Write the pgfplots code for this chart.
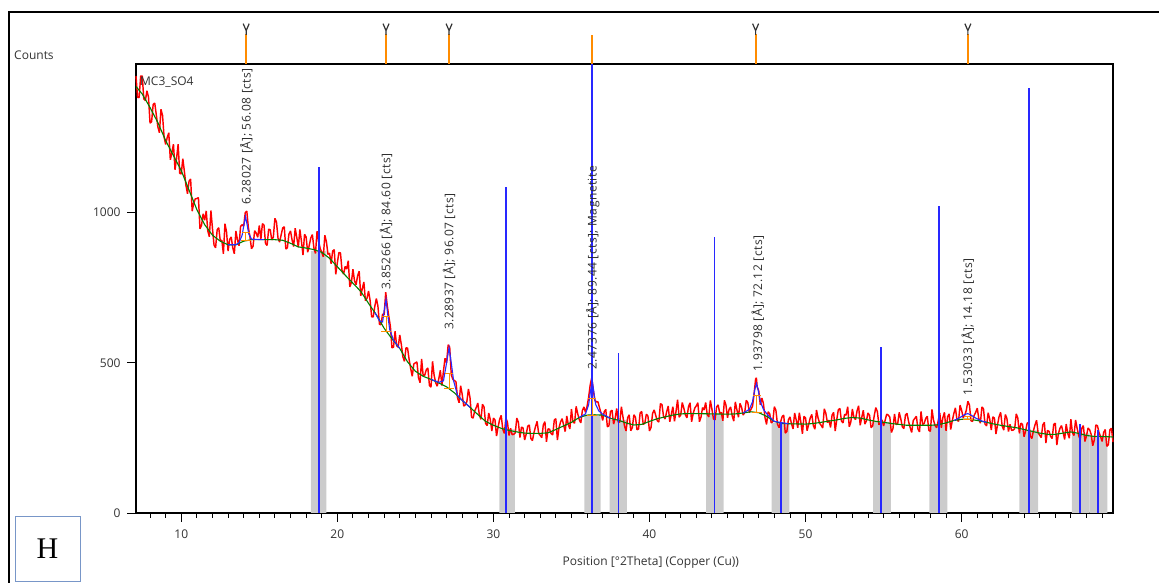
\documentclass[border=0pt]{standalone}
\usepackage{fontspec}
\setmainfont{Open Sans}
\newfontfamily\serifH{Liberation Serif}
\usepackage{pgfplots}
\pgfplotsset{compat=1.18}
\definecolor{txt}{RGB}{51,51,51}
\definecolor{lbl}{RGB}{45,45,45}
\definecolor{stick}{RGB}{40,40,255}
\definecolor{bgline}{RGB}{0,128,0}
\definecolor{org}{RGB}{255,140,0}
\definecolor{band}{RGB}{204,204,204}
\definecolor{hbox}{RGB}{120,150,200}

\newcommand{\refband}[3]{\addplot[fill=band, draw=none] coordinates {(#1,0)(#1,#3)(#2,#3)(#2,0)} \closedcycle;}
\newcommand{\peaktop}[1]{%
  \draw[org, line width=2bp] (axis cs:#1,1495) -- (axis cs:#1,1594);
  \draw[black!80, line width=1.2bp] (axis cs:#1,1592) -- (axis cs:#1,1606) -- ++(-3bp,7bp) (axis cs:#1,1606) -- ++(3bp,7bp);}
\newcommand{\pkmark}[3]{%
  \draw[org, line width=1bp] (axis cs:#1,#2) -- (axis cs:#1,#3)
    ([xshift=-4bp]axis cs:#1,#3) -- ([xshift=4bp]axis cs:#1,#3)
    ([xshift=-5bp]axis cs:#1,#2) -- ([xshift=5bp]axis cs:#1,#2);}

\begin{document}
\begin{tikzpicture}[x=1bp,y=1bp]
\useasboundingbox (0,0) rectangle (1159,583);
\draw[line width=2bp] (9,-20) -- (9,571) -- (1180,571);
\draw[hbox, line width=0.8bp] (15,2) rectangle (80,67);
\node[font=\serifH\fontsize{30bp}{32bp}\selectfont] at (47.5,34.5) {H};
\node[anchor=west, text=txt, font=\fontsize{12bp}{14bp}\selectfont, inner sep=0] at (14,528) {Counts};

\begin{axis}[
  at={(136bp,70bp)}, anchor=south west,
  width=977bp, height=449bp, scale only axis,
  xmin=7.1, xmax=69.7, ymin=0, ymax=1495,
  clip=false,
  axis line style={line width=1.8bp},
  xtick={10,20,30,40,50,60},
  minor xtick={8,9,...,69},
  ytick={0,500,1000},
  xtick pos=lower, ytick pos=left,
  tick align=outside,
  major tick length=9bp, minor tick length=5bp,
  tick style={black, line width=0.9bp},
  ticklabel style={font=\fontsize{12bp}{14bp}\selectfont, text=txt},
  /pgf/number format/assume math mode=true,
  /pgf/number format/set thousands separator={},
  yticklabel style={xshift=-3bp},
  xticklabel style={yshift=-4bp},
  xlabel={Position [°2Theta] (Copper (Cu))},
  xlabel style={font=\fontsize{12bp}{14bp}\selectfont, text=txt,
    at={(axis description cs:0.527,0)}, anchor=center, yshift=-49bp},
]
% reference bands
\refband{18.3}{19.3}{873}
\refband{30.38}{31.37}{278}
\refband{35.83}{36.87}{326}
\refband{37.45}{38.55}{310}
\refband{43.63}{44.75}{330}
\refband{47.83}{48.96}{300}
\refband{54.33}{55.46}{303}
\refband{57.93}{59.08}{293}
\refband{63.7}{64.9}{275}
\refband{67.06}{68.2}{265}
\refband{68.2}{69.33}{255}

% measured counts
\addplot[red, line width=1.45bp, line join=bevel] coordinates {
(7.1,1455)(7.2,1384)(7.3,1383)(7.4,1455)(7.5,1455)(7.6,1379)(7.7,1373)(7.8,1406)(7.9,1385)(8.0,1298)
(8.1,1303)(8.2,1360)(8.3,1365)(8.4,1326)(8.5,1286)(8.6,1266)(8.7,1344)(8.8,1324)(8.9,1252)(9.0,1227)
(9.1,1250)(9.2,1266)(9.3,1176)(9.4,1200)(9.5,1228)(9.6,1143)(9.7,1181)(9.8,1228)(9.9,1131)(10.0,1129)
(10.1,1180)(10.2,1137)(10.3,1091)(10.4,1063)(10.5,1105)(10.6,1112)(10.7,1005)(10.8,1032)(10.9,1046)(11.0,1047)
(11.1,1050)(11.2,946)(11.3,958)(11.4,996)(11.5,975)(11.6,1006)(11.7,939)(11.8,920)(11.9,1007)(12.0,947)
(12.1,892)(12.2,883)(12.3,943)(12.4,950)(12.5,906)(12.6,908)(12.7,863)(12.8,963)(12.9,936)(13.0,872)
(13.1,911)(13.2,919)(13.3,883)(13.4,863)(13.5,939)(13.6,910)(13.7,890)(13.8,954)(13.9,960)(14.0,955)
(14.1,1000)(14.2,1005)(14.3,950)(14.4,920)(14.5,880)(14.6,888)(14.7,940)(14.8,932)(14.9,918)(15.0,957)
(15.1,911)(15.2,963)(15.3,959)(15.4,897)(15.5,891)(15.6,945)(15.7,943)(15.8,909)(15.9,919)(16.0,981)
(16.1,969)(16.2,915)(16.3,902)(16.4,926)(16.5,949)(16.6,953)(16.7,879)(16.8,883)(16.9,929)(17.0,939)
(17.1,909)(17.2,887)(17.3,948)(17.4,918)(17.5,885)(17.6,944)(17.7,905)(17.8,859)(17.9,928)(18.0,919)
(18.1,868)(18.2,891)(18.3,916)(18.4,927)(18.5,882)(18.6,864)(18.7,938)(18.8,905)(18.9,881)(19.0,868)
(19.1,853)(19.2,925)(19.3,903)(19.4,861)(19.5,865)(19.6,830)(19.7,872)(19.8,877)(19.9,795)(20.0,833)
(20.1,867)(20.2,866)(20.3,808)(20.4,795)(20.5,821)(20.6,812)(20.7,840)(20.8,753)(20.9,767)(21.0,812)
(21.1,773)(21.2,760)(21.3,790)(21.4,805)(21.5,723)(21.6,747)(21.7,769)(21.8,707)(21.9,715)(22.0,739)
(22.1,708)(22.2,653)(22.3,653)(22.4,688)(22.5,714)(22.6,689)(22.7,628)(22.8,627)(22.9,662)(23.0,660)
(23.1,735)(23.2,690)(23.3,654)(23.4,621)(23.5,550)(23.6,552)(23.7,605)(23.8,557)(23.9,552)(24.0,593)
(24.1,561)(24.2,520)(24.3,505)(24.4,550)(24.5,549)(24.6,511)(24.7,481)(24.8,455)(24.9,496)(25.0,500)
(25.1,503)(25.2,450)(25.3,434)(25.4,513)(25.5,457)(25.6,459)(25.7,477)(25.8,483)(25.9,425)(26.0,419)
(26.1,505)(26.2,459)(26.3,434)(26.4,422)(26.5,447)(26.6,475)(26.7,424)(26.8,473)(26.9,515)(27.0,500)
(27.1,560)(27.2,552)(27.3,460)(27.4,445)(27.5,441)(27.6,437)(27.7,384)(27.8,367)(27.9,424)(28.0,395)
(28.1,356)(28.2,360)(28.3,371)(28.4,413)(28.5,384)(28.6,319)(28.7,316)(28.8,340)(28.9,351)(29.0,366)
(29.1,326)(29.2,312)(29.3,362)(29.4,353)(29.5,298)(29.6,291)(29.7,333)(29.8,311)(29.9,273)(30.0,316)
(30.1,310)(30.2,256)(30.3,286)(30.4,312)(30.5,325)(30.6,279)(30.7,265)(30.8,316)(30.9,302)(31.0,258)
(31.1,282)(31.2,261)(31.3,262)(31.4,267)(31.5,316)(31.6,302)(31.7,251)(31.8,286)(31.9,283)(32.0,243)
(32.1,262)(32.2,289)(32.3,293)(32.4,248)(32.5,241)(32.6,268)(32.7,288)(32.8,305)(32.9,265)(33.0,258)
(33.1,251)(33.2,294)(33.3,304)(33.4,237)(33.5,280)(33.6,279)(33.7,264)(33.8,260)(33.9,309)(34.0,314)
(34.1,243)(34.2,283)(34.3,303)(34.4,314)(34.5,293)(34.6,271)(34.7,323)(34.8,294)(34.9,280)(35.0,346)
(35.1,303)(35.2,299)(35.3,355)(35.4,331)(35.5,311)(35.6,300)(35.7,341)(35.8,353)(35.9,335)(36.0,355)
(36.1,385)(36.2,426)(36.3,450)(36.4,410)(36.5,375)(36.6,370)(36.7,370)(36.8,350)(36.9,332)(37.0,308)
(37.1,337)(37.2,345)(37.3,287)(37.4,290)(37.5,338)(37.6,342)(37.7,296)(37.8,315)(37.9,348)(38.0,302)
(38.1,303)(38.2,354)(38.3,320)(38.4,290)(38.5,273)(38.6,317)(38.7,327)(38.8,274)(38.9,284)(39.0,327)
(39.1,319)(39.2,277)(39.3,280)(39.4,333)(39.5,338)(39.6,295)(39.7,299)(39.8,329)(39.9,323)(40.0,273)
(40.1,285)(40.2,332)(40.3,343)(40.4,325)(40.5,307)(40.6,303)(40.7,364)(40.8,361)(40.9,322)(41.0,313)
(41.1,337)(41.2,356)(41.3,304)(41.4,328)(41.5,354)(41.6,305)(41.7,338)(41.8,377)(41.9,319)(42.0,326)
(42.1,368)(42.2,349)(42.3,327)(42.4,317)(42.5,354)(42.6,367)(42.7,304)(42.8,331)(42.9,349)(43.0,357)
(43.1,367)(43.2,304)(43.3,319)(43.4,351)(43.5,343)(43.6,368)(43.7,328)(43.8,320)(43.9,375)(44.0,346)
(44.1,313)(44.2,310)(44.3,353)(44.4,360)(44.5,332)(44.6,335)(44.7,307)(44.8,375)(44.9,359)(45.0,317)
(45.1,345)(45.2,353)(45.3,323)(45.4,306)(45.5,370)(45.6,344)(45.7,319)(45.8,365)(45.9,352)(46.0,326)
(46.1,334)(46.2,375)(46.3,368)(46.4,334)(46.5,345)(46.6,355)(46.7,395)(46.8,446)(46.85,450)(46.9,420)(47.0,407)
(47.1,360)(47.2,383)(47.3,365)(47.4,318)(47.5,295)(47.6,337)(47.7,331)(47.8,300)(47.9,304)(48.0,354)
(48.1,342)(48.2,296)(48.3,284)(48.4,303)(48.5,321)(48.6,326)(48.7,266)(48.8,271)(48.9,310)(49.0,320)
(49.1,297)(49.2,280)(49.3,333)(49.4,310)(49.5,284)(49.6,334)(49.7,302)(49.8,264)(49.9,322)(50.0,316)
(50.1,274)(50.2,295)(50.3,317)(50.4,328)(50.5,291)(50.6,279)(50.7,343)(50.8,317)(50.9,299)(51.0,292)
(51.1,283)(51.2,347)(51.3,332)(51.4,301)(51.5,309)(51.6,285)(51.7,326)(51.8,335)(51.9,273)(52.0,311)
(52.1,344)(52.2,348)(52.3,306)(52.4,300)(52.5,328)(52.6,326)(52.7,354)(52.8,287)(52.9,303)(53.0,346)
(53.1,318)(53.2,311)(53.3,340)(53.4,357)(53.5,292)(53.6,318)(53.7,342)(53.8,296)(53.9,307)(54.0,333)
(54.1,325)(54.2,284)(54.3,290)(54.4,324)(54.5,351)(54.6,338)(54.7,294)(54.8,299)(54.9,310)(55.0,290)
(55.1,309)(55.2,329)(55.3,326)(55.4,319)(55.5,268)(55.6,281)(55.7,330)(55.8,295)(55.9,296)(56.0,335)
(56.1,314)(56.2,287)(56.3,281)(56.4,326)(56.5,332)(56.6,305)(56.7,285)(56.8,268)(56.9,308)(57.0,315)
(57.1,322)(57.2,280)(57.3,270)(57.4,338)(57.5,295)(57.6,298)(57.7,315)(57.8,322)(57.9,275)(58.0,272)
(58.1,345)(58.2,309)(58.3,291)(58.4,284)(58.5,307)(58.6,333)(58.7,284)(58.8,318)(58.9,335)(59.0,274)
(59.1,320)(59.2,330)(59.3,278)(59.4,307)(59.5,331)(59.6,350)(59.7,311)(59.8,305)(59.9,359)(60.0,342)
(60.1,317)(60.2,326)(60.3,342)(60.4,372)(60.5,360)(60.6,307)(60.7,305)(60.8,325)(60.9,335)(61.0,349)
(61.1,315)(61.2,299)(61.3,353)(61.4,347)(61.5,296)(61.6,290)(61.7,334)(61.8,313)(61.9,276)(62.0,320)
(62.1,316)(62.2,263)(62.3,294)(62.4,321)(62.5,335)(62.6,289)(62.7,276)(62.8,328)(62.9,315)(63.0,271)
(63.1,295)(63.2,275)(63.3,276)(63.4,281)(63.5,330)(63.6,316)(63.7,265)(63.8,299)(63.9,295)(64.0,254)
(64.1,273)(64.2,299)(64.3,302)(64.4,256)(64.5,248)(64.6,274)(64.7,293)(64.8,309)(64.9,267)(65.0,259)
(65.1,251)(65.2,293)(65.3,302)(65.4,233)(65.5,275)(65.6,272)(65.7,255)(65.8,248)(65.9,295)(66.0,299)
(66.1,226)(66.2,264)(66.3,282)(66.4,291)(66.5,269)(66.6,245)(66.7,296)(66.8,265)(66.9,249)(67.0,312)
(67.1,267)(67.2,258)(67.3,310)(67.4,282)(67.5,258)(67.6,244)(67.7,282)(67.8,291)(67.9,238)(68.0,257)
(68.1,283)(68.2,277)(68.3,262)(68.4,224)(68.5,243)(68.6,293)(68.7,291)(68.8,268)(68.9,255)(69.0,238)
(69.1,268)(69.2,278)(69.3,222)(69.4,227)(69.5,277)(69.6,282)(69.7,236)
};

% background
\addplot[bgline, line width=1.1bp] coordinates {
(7.1,1420)(7.5,1395)(8.0,1350)(8.5,1300)(9.0,1240)(9.5,1190)(10.0,1140)(10.5,1075)(11.0,1010)(11.5,960)
(12.0,925)(12.5,905)(13.0,893)(13.5,893)(14.0,905)(14.5,910)(15.0,910)(16.0,910)(16.5,908)(17.0,898)
(17.5,886)(18.0,882)(18.5,877)(19.0,868)(19.5,848)(20.0,820)(20.5,792)(21.0,765)(21.5,738)(22.0,698)
(22.5,660)(23.0,615)(23.5,580)(24.0,548)(24.5,503)(25.0,472)(25.5,455)(26.0,445)(26.5,433)(27.0,420)
(27.5,400)(28.0,375)(28.5,352)(29.0,328)(29.5,305)(30.0,292)(30.5,282)(31.0,275)(31.5,270)(32.0,266)
(32.5,265)(33.0,265)(33.5,267)(34.0,278)(34.5,290)(35.0,302)(35.5,318)(36.0,326)(36.5,327)(37.0,326)
(37.5,315)(38.0,309)(38.5,300)(39.0,293)(39.5,295)(40.0,305)(40.5,314)(41.0,320)(41.5,326)(42.0,330)
(42.5,331)(43.0,331)(44.0,330)(45.0,329)(45.5,330)(46.0,333)(46.5,337)(47.0,334)(47.5,322)(48.0,305)
(48.5,298)(49.0,297)(50.0,296)(50.5,298)(51.0,302)(51.5,306)(52.0,310)(52.5,315)(53.0,318)(53.5,316)
(54.0,310)(54.5,305)(55.0,302)(55.5,298)(56.0,295)(56.5,292)(57.0,292)(58.0,292)(58.5,294)(59.0,300)
(59.5,308)(60.0,312)(60.5,312)(61.0,308)(61.5,303)(62.0,297)(62.5,292)(63.0,288)(63.5,284)(64.0,278)
(64.5,272)(65.0,266)(65.5,262)(66.0,262)(66.5,266)(67.0,270)(67.5,265)(68.0,258)(68.5,255)(69.0,255)
(69.7,253)
};

% fitted profile
\addplot[stick, line width=1.1bp] coordinates {(13.0,893)(13.5,893)(13.7,900)(13.9,925)(14.0,955)(14.12,987)(14.22,960)(14.32,930)(14.5,912)(14.8,911)(15.3,910)};
\addplot[stick, line width=1.1bp] coordinates {(22.4,668)(22.7,640)(22.9,636)(23.02,680)(23.12,711)(23.22,665)(23.35,612)(23.6,575)(24.0,548)};
\addplot[stick, line width=1.1bp] coordinates {(26.0,445)(26.5,435)(26.8,440)(27.0,500)(27.16,551)(27.3,500)(27.45,440)(27.7,392)(28.0,375)(28.5,352)};
\addplot[stick, line width=1.1bp] coordinates {(35.5,318)(35.9,330)(36.1,360)(36.22,405)(36.33,442)(36.44,400)(36.55,362)(36.75,340)(37.0,329)(37.5,315)};
\addplot[stick, line width=1.1bp] coordinates {(46.0,333)(46.4,345)(46.6,370)(46.75,412)(46.86,431)(46.97,408)(47.1,372)(47.3,345)(47.6,325)(48.0,305)(48.9,297)};
\addplot[stick, line width=1.1bp] coordinates {(59.5,308)(59.9,318)(60.2,328)(60.4,331)(60.6,326)(60.9,316)(61.3,306)(61.6,302)};

% reference lines
\addplot[stick, line width=1.8bp, ycomb] coordinates {
(18.8,1152)(30.82,1085)(36.33,1495)(38.02,532)(44.17,918)(48.45,298)(54.85,552)(58.56,1022)(64.33,1415)(67.6,295)(68.73,275)};

% peak markers
\pkmark{14.12}{906}{935}
\pkmark{23.12}{605}{655}
\pkmark{27.16}{415}{465}
\pkmark{36.33}{326}{380}
\pkmark{46.86}{335}{392}
\pkmark{60.4}{312}{322}

\peaktop{14.16}
\peaktop{23.12}
\peaktop{27.16}
\peaktop{46.8}
\peaktop{60.4}
\draw[org, line width=2bp] (axis cs:36.3,1495) -- (axis cs:36.3,1590);

\node[anchor=west, inner sep=0, text=txt, font=\fontsize{12bp}{14bp}\selectfont] at (axis cs:7.35,1435) {MC3\_SO4};

\begin{scope}[every node/.style={rotate=90, anchor=west, inner sep=0, text=lbl, font=\fontsize{12bp}{14bp}\selectfont\addfontfeature{LetterSpace=4}}]
\node at (axis cs:14.16,1026) {6.28027 [Å]; 56.08 [cts]};
\node at (axis cs:23.12,742) {3.85266 [Å]; 84.60 [cts]};
\node at (axis cs:27.16,609) {3.28937 [Å]; 96.07 [cts]};
\node at (axis cs:36.37,476) {2.47376 [Å]; 89.44 [cts]; Magnetite};
\node at (axis cs:46.94,469) {1.93798 [Å]; 72.12 [cts]};
\node at (axis cs:60.39,392) {1.53033 [Å]; 14.18 [cts]};
\end{scope}
\end{axis}
\end{tikzpicture}
\end{document}
